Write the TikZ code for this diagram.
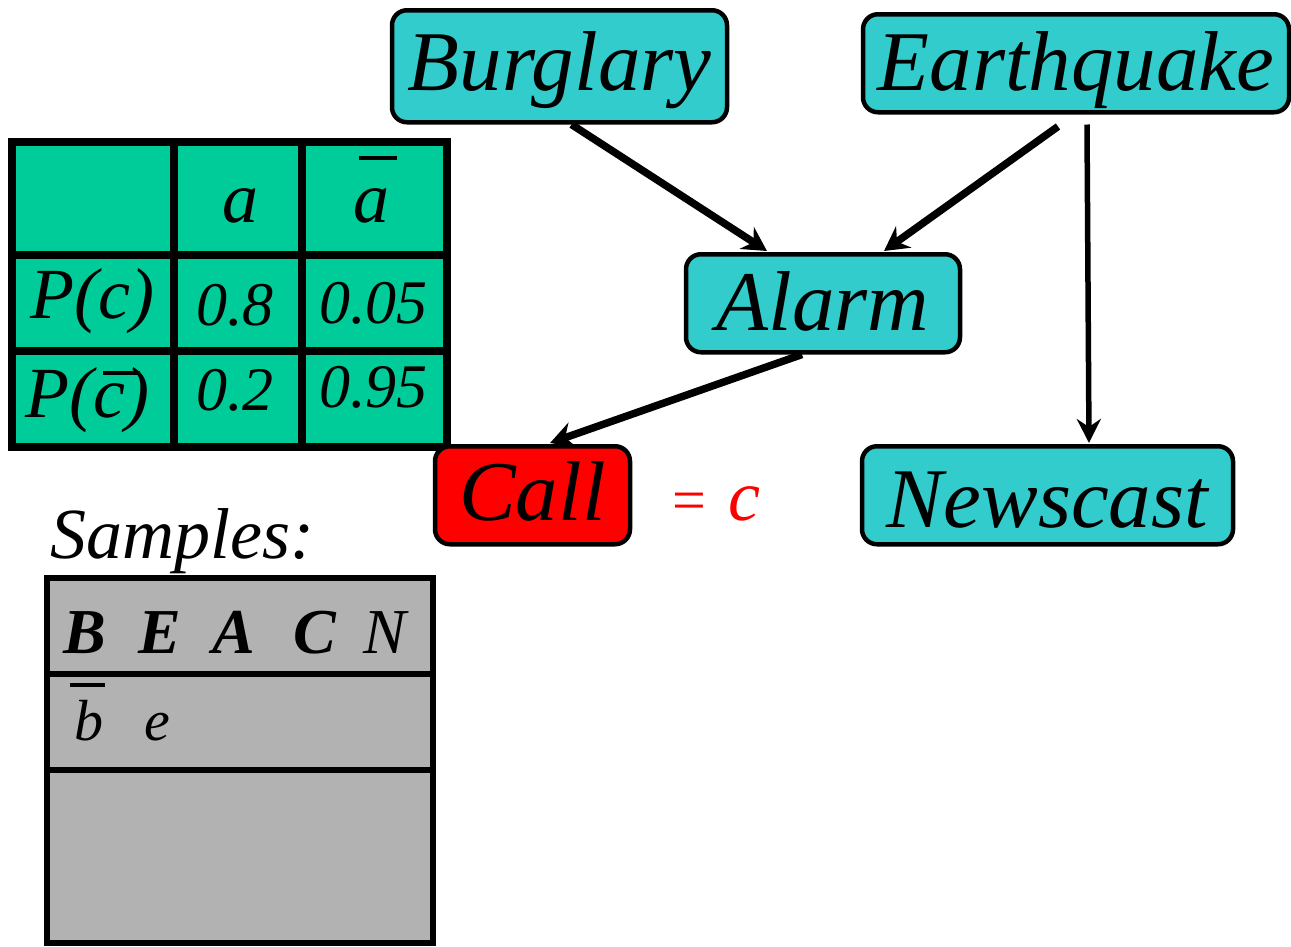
\documentclass[tikz,border=0pt]{standalone}
\usepackage{fontspec}
\setmainfont{Liberation Serif}[
  UprightFont={Liberation Serif},
  ItalicFont={Liberation Serif Italic},
  BoldFont={Liberation Serif Bold},
  BoldItalicFont={Liberation Serif Bold Italic}]
\usetikzlibrary{arrows.meta,calc}
\definecolor{nodecyan}{RGB}{51,204,204}
\definecolor{cptgreen}{RGB}{0,204,153}
\definecolor{samplegray}{RGB}{178,178,178}
\definecolor{evred}{RGB}{255,0,0}
\begin{document}
\begin{tikzpicture}[x=1pt,y=-1pt,
  bnbox/.style={draw=black, line width=4.5pt, rounded corners=15pt, fill=nodecyan,
    inner sep=0pt, anchor=north, align=center, font=\fontsize{85}{90}\selectfont\itshape},
  evbox/.style={bnbox, fill=evred},
  arr/.style={line width=7.5pt, -{Stealth[length=24pt,width=26pt,inset=8pt]}},
  thinarr/.style={line width=5.5pt, -{Stealth[length=24pt,width=24pt,inset=8pt]}},
  tline/.style={line width=8pt},
  sline/.style={line width=6pt},
  bar/.style={line width=3.5pt},
  cpttxt/.style={anchor=base west, inner sep=0pt, font=\fontsize{72}{80}\selectfont\itshape},
  numtxt/.style={anchor=base west, inner sep=0pt, font=\fontsize{62}{70}\selectfont\itshape},
  hdrtxt/.style={anchor=base west, inner sep=0pt, font=\fontsize{64}{70}\selectfont\bfseries\itshape},
  smptxt/.style={anchor=base west, inner sep=0pt, font=\fontsize{58}{64}\selectfont\itshape}
]
\useasboundingbox (0,0) rectangle (1291,946);

% ---------- CPT table ----------
\fill[cptgreen] (12,142) rectangle (447,448);
\draw[tline] (12,142) rectangle (447,447);
\draw[tline] (174,142) -- (174,450);
\draw[tline] (302,142) -- (302,447);
\draw[tline] (12,255) -- (447,255);
\draw[tline] (12,351) -- (447,351);
\node[cpttxt] (ha) at (222,222) {a};
\node[cpttxt] (hna) at (353,222) {a};
\draw[bar] (359,158) -- (397,158);
\node[cpttxt] (pc) at (30,318) {P(c)};
\node[cpttxt] (pnc) at (25,417) {P(c)};
\draw[bar] (103,373) -- (140,373);
\node[numtxt] (v1) at (196,325) {0.8};
\node[numtxt] (v2) at (319,323) {0.05};
\node[numtxt] (v3) at (196,410) {0.2};
\node[numtxt] (v4) at (319,407) {0.95};

% ---------- Samples ----------
\node[anchor=base west, inner sep=0pt, font=\fontsize{72}{80}\selectfont\itshape] (samples) at (50,558) {Samples:};
\fill[samplegray] (47,577) rectangle (433,946);
\draw[sline] (47,578) rectangle (433,943);
\draw[sline] (47,674) -- (433,674);
\draw[sline] (47,770) -- (433,770);
\node[hdrtxt] (hB) at (63,653) {B};
\node[hdrtxt] (hE) at (138,653) {E};
\node[hdrtxt] (hA) at (212,653) {A};
\node[hdrtxt] (hC) at (293,653) {C};
\node[anchor=base west, inner sep=0pt, font=\fontsize{64}{70}\selectfont\itshape] (hN) at (363,653) {N};
\node[smptxt] (sb) at (74,740) {b};
\draw[bar] (70,685) -- (105,685);
\node[smptxt] (se) at (144,740) {e};

% ---------- Network nodes ----------
\node[bnbox, minimum width=335pt, text height=80pt, text depth=32pt] (burg) at (559.5,8) {Burglary};
\node[bnbox, minimum width=426pt, text height=76pt, text depth=22pt] (earth) at (1076,12) {Earthquake};
\node[bnbox, minimum width=274pt, text height=76pt, text depth=22pt] (alarm) at (823,252) {Alarm};
\node[evbox, minimum width=195pt, text height=74pt, text depth=24pt] (call) at (532.5,444) {Call};
\node[bnbox, minimum width=371pt, text height=81pt, text depth=17pt] (news) at (1047.5,444) {Newscast};
\node[anchor=base west, inner sep=0pt, text=evred, font=\fontsize{60}{70}\selectfont] (eqc) at (672,520) {=\hspace{22pt}{\fontsize{72}{80}\selectfont\itshape c}};

% ---------- Connectors ----------
\draw[arr] ([xshift=12pt,yshift=0pt]burg.south) -- ([xshift=-56pt,yshift=1pt]alarm.north);
\draw[arr] ([xshift=-18pt,yshift=-12pt]earth.south) -- ([xshift=61pt,yshift=1pt]alarm.north);
\draw[thinarr] ([xshift=11pt,yshift=-10pt]earth.south) -- ([xshift=41.5pt,yshift=1pt]news.north);
\draw[arr] ([xshift=-21pt,yshift=0pt]alarm.south) -- ([xshift=17.5pt,yshift=1pt]call.north);
\end{tikzpicture}
\end{document}
